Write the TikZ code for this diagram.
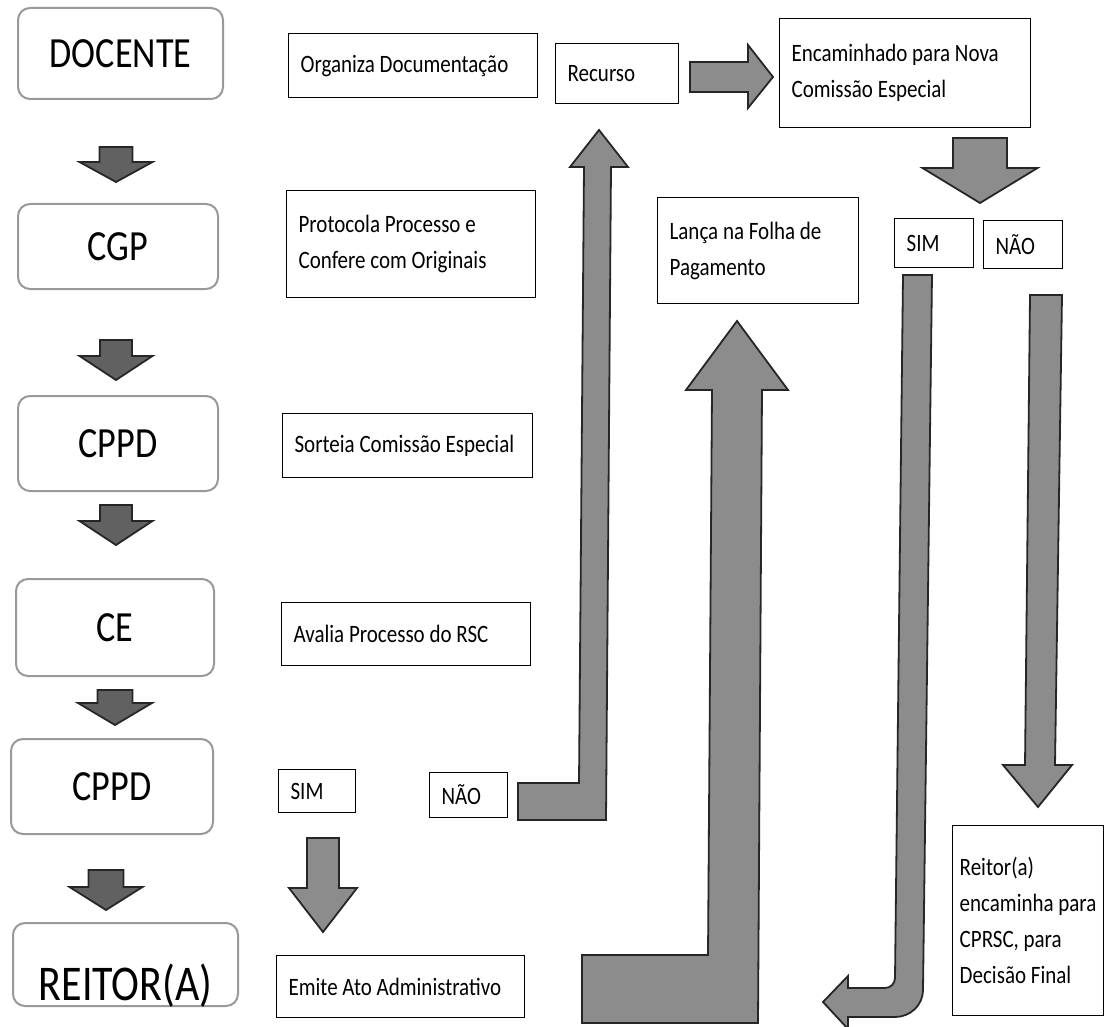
\documentclass[tikz,border=0pt]{standalone}
\usepackage{fontspec}
\setmainfont[FakeStretch=0.84]{Carlito}

% seta para baixo: [estilo]{x}{topo}{base da ponta}{ponta}{meia haste}{meia ponta}
\newcommand\setabx[7][seta]{%
  \filldraw[#1] ({#2-#6},#3) -- ({#2+#6},#3) -- ({#2+#6},#4) -- ({#2+#7},#4)
    -- (#2,#5) -- ({#2-#7},#4) -- ({#2-#6},#4) -- cycle;}

\begin{document}
\begin{tikzpicture}[x=1pt,y=-1pt,
    etapa/.style={draw=black!40,line width=2pt,rounded corners=12pt,anchor=north west,
      inner sep=0pt,font=\fontsize{43}{43}\selectfont},
    caixa/.style={draw,line width=1.2pt,anchor=north west,align=flush left,inner xsep=12pt,
      inner ysep=0pt,font=\fontsize{25}{36}\selectfont},
    seta/.style={fill=black!45,draw=black!85,line width=1.8pt},
    setaesc/.style={seta,fill=black!62}]
    \useasboundingbox (0,0) rectangle (1105,1027);
    \clip (0,0) rectangle (1105,1027);
    % coluna da esquerda
    \node[etapa,minimum width=205pt,minimum height=91pt] (docente) at (17,7) {DOCENTE};
    \node[etapa,minimum width=200pt,minimum height=85pt] (cgp) at (17,203) {CGP};
    \node[etapa,minimum width=200pt,minimum height=95pt] (cppdA) at (17,395) {CPPD};
    \node[etapa,minimum width=198pt,minimum height=97pt] (ce) at (15,578) {CE};
    \node[etapa,minimum width=202pt,minimum height=95pt] (cppdB) at (10,738) {CPPD};
    \node[etapa,minimum width=225pt,minimum height=83pt,text height=71pt,text depth=0pt,
      font=\fontsize{50}{50}\selectfont] (reitor) at (12,922) {REITOR(A)};
    \setabx[setaesc]{116}{147}{162}{182}{16.5}{36.5}
    \setabx[setaesc]{116}{340}{356}{380}{16}{36.5}
    \setabx[setaesc]{116}{505}{521}{545}{16}{36.5}
    \setabx[setaesc]{115}{690}{703}{725}{17.5}{37}
    \setabx[setaesc]{106}{870}{887}{910}{17.5}{36.5}
    % acoes
    \node[caixa,text width=225pt,minimum height=64pt] (organiza) at (288,33) {Organiza Documentação};
    \node[caixa,text width=225pt,minimum height=107pt] (protocola) at (286,190) {Protocola Processo e\\Confere com Originais};
    \node[caixa,text width=226pt,minimum height=64pt] (sorteia) at (282,413) {Sorteia Comissão Especial};
    \node[caixa,text width=225pt,minimum height=63pt] (avalia) at (281,602) {Avalia Processo do RSC};
    \node[caixa,text width=53pt,minimum height=43pt] (simA) at (278,769) {SIM};
    \node[caixa,text width=54pt,minimum height=45pt] (naoA) at (429,772) {NÃO};
    \node[caixa,text width=224pt,minimum height=62pt] (emite) at (276,955) {Emite Ato Administrativo};
    \setabx{323}{838}{888}{932}{16}{34}
    % recurso
    \node[caixa,text width=99pt,minimum height=60pt] (recurso) at (555,43) {Recurso};
    \node[caixa,text width=227pt,minimum height=109pt] (encam) at (779,18) {Encaminhado para Nova\\Comissão Especial};
    \node[caixa,text width=177pt,minimum height=106pt] (lanca) at (657,197) {Lança na Folha de\\Pagamento};
    \node[caixa,text width=55pt,minimum height=49pt] (simB) at (894,218) {SIM};
    \node[caixa,text width=55pt,minimum height=48pt] (naoB) at (983,220) {NÃO};
    \node[caixa,inner xsep=7pt,minimum width=151pt,minimum height=190pt] (reitorcp) at (952,825)
      {Reitor(a)\\encaminha para\\CPRSC, para\\Decisão Final};
    \filldraw[seta] (518,783) -- (579,783) -- (584,167) -- (570,167) -- (599,130) -- (628,167)
      -- (611,167) -- (606,820) -- (518,820) -- cycle; % NAO -> recurso
    \filldraw[seta] (690,62) -- (748,62) -- (748,45) -- (773,77) -- (748,108) -- (748,92)
      -- (690,92) -- cycle;
    \setabx{980}{138}{168}{203}{27}{57.5}
    \filldraw[seta] (582,1023) -- (758,1023) -- (762,390) -- (788,390) -- (737,321) -- (686,390)
      -- (712,390) -- (708,955) -- (582,955) -- cycle; % para a folha
    \filldraw[seta] (903,275) -- (932,275) -- (923,990) to[out=-90,in=0] (895,1017) -- (848,1017)
      -- (848,1029) -- (823,1002) -- (848,976) -- (848,988) -- (885,988) to[out=0,in=-90] (895,978)
      -- cycle;
    \filldraw[seta] (1030,295) -- (1062,295) -- (1055,765) -- (1072,765) -- (1038,807) -- (1003,765)
      -- (1025,765) -- cycle;
\end{tikzpicture}
\end{document}
